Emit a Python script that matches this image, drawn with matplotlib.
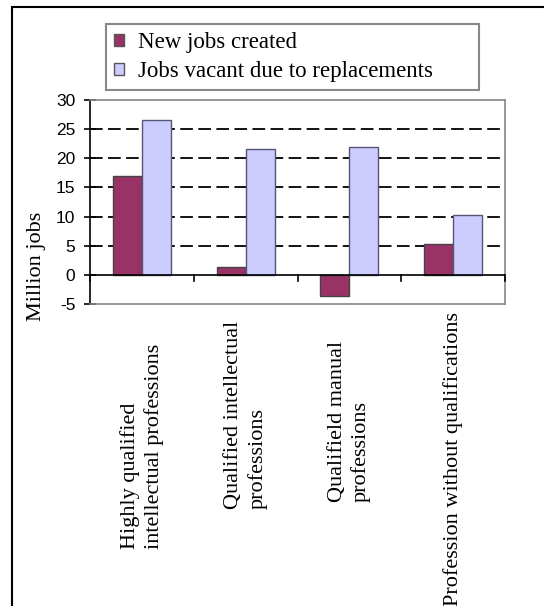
import matplotlib
matplotlib.use("Agg")
import matplotlib.pyplot as plt
from matplotlib.patches import Rectangle
import matplotlib.transforms as mtransforms
import numpy as np

# data (million jobs)
categories = [
    "Highly qualified\nintellectual professions",
    "Qualified intellectual\nprofessions",
    "Qualifield manual\nprofessions",
    "Profession without qualifications",
]
new_jobs = [17.0, 1.3, -3.7, 5.3]
vacant_jobs = [26.6, 21.6, 21.9, 10.2]
series_names = ["New jobs created", "Jobs vacant due to replacements"]
y_ticks = [-5, 0, 5, 10, 15, 20, 25, 30]

# layout: vertical centre of each rotated category label (figure fraction)
label_y = [0.264, 0.315, 0.305, 0.243]

PURPLE = "#993366"
LAVENDER = "#CCCCFF"
SERIF = "Liberation Serif"
SANS = "Liberation Sans"

fig = plt.figure(figsize=(5.44, 6.06), dpi=100)
ax = fig.add_axes([90 / 544, 1 - 304 / 606, 415 / 544, 204 / 606])

x = np.arange(len(categories))
w = 0.28
b1 = ax.bar(x - w / 2, new_jobs, w, color=PURPLE, edgecolor="#444444", linewidth=1, zorder=3)
b2 = ax.bar(x + w / 2, vacant_jobs, w, color=LAVENDER, edgecolor="#555577", linewidth=1, zorder=3)

ax.set_xlim(-0.5, len(categories) - 0.5)
ax.set_ylim(y_ticks[0], y_ticks[-1])

# dashed gridlines (not at top, zero or bottom)
for t in y_ticks[2:-1]:
    ax.axhline(t, color="black", linestyle=(0, (7, 3)), linewidth=1.3, zorder=1)

# plot-area border in gray, black value axis and zero line
for s in ["top", "right", "bottom"]:
    ax.spines[s].set_color("#888888")
    ax.spines[s].set_linewidth(1.2)
ax.spines["left"].set_color("black")
ax.spines["left"].set_linewidth(1.2)
ax.axhline(0, color="black", linewidth=1.2, zorder=4)

ax.set_yticks(y_ticks)
ax.set_yticklabels([str(t) for t in y_ticks])
ax.tick_params(axis="y", direction="inout", length=9, width=1.2, labelsize=12.5, pad=6)
for lab in ax.get_yticklabels():
    lab.set_fontfamily(SANS)

# category boundary ticks hanging from the zero line
ax.set_xticks([])
for b in np.arange(len(categories) + 1) - 0.5:
    ax.plot([b, b], [0, -1.1], color="black", linewidth=1.2, zorder=4, clip_on=False)

ax.set_ylabel("Million jobs", fontsize=16, family=SERIF)
ax.yaxis.set_label_coords(-0.105, 0.186)

trans = mtransforms.blended_transform_factory(ax.transData, fig.transFigure)
for i, cat in enumerate(categories):
    ax.text(i, label_y[i], cat, transform=trans, rotation=90, ha="center", va="center",
            fontsize=16, family=SERIF, multialignment="left", linespacing=1.3)

leg_top = 1 - 24 / 606
leg = fig.legend([b1, b2], series_names, loc="upper left",
                 bbox_to_anchor=(106 / 544, leg_top - 0.01, 373 / 544, 0.01), mode="expand",
                 fancybox=False, framealpha=1, edgecolor="#888888",
                 prop={"family": SERIF, "size": 16.5}, handlelength=0.45, handleheight=0.45,
                 handletextpad=0.6, borderpad=0.35, labelspacing=0.35, borderaxespad=0)
leg.get_frame().set_linewidth(1.5)
for h in leg.legend_handles:
    h.set_edgecolor("#555555")

# outer chart frame (top and left edges visible)
fig.add_artist(Rectangle((12 / 544, -0.05), 1.2, 1 - 7 / 606 + 0.05, transform=fig.transFigure,
                         fill=False, edgecolor="black", linewidth=1.5))

fig.savefig("out.png", dpi=100)
